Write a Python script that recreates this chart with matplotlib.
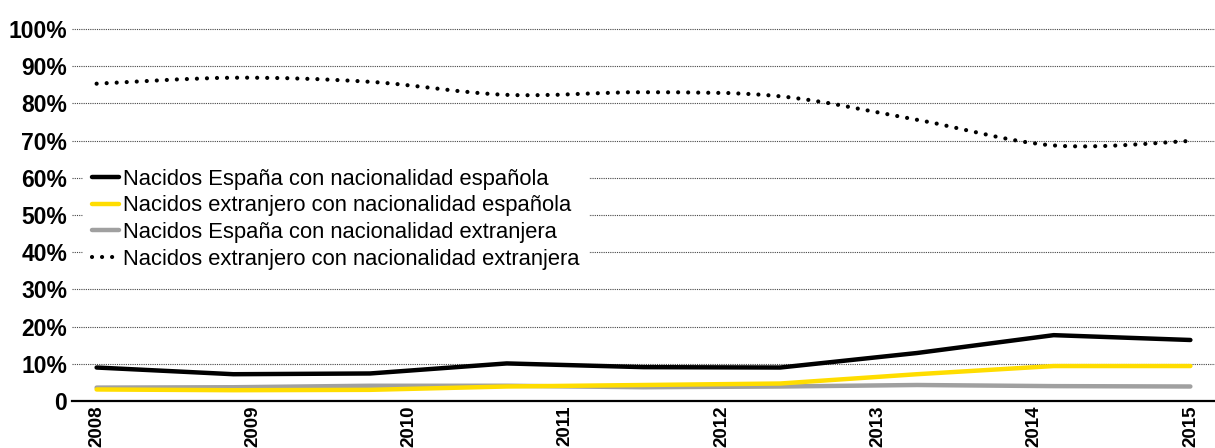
import matplotlib
matplotlib.use("Agg")
import matplotlib.pyplot as plt
import numpy as np
from matplotlib.path import Path
from matplotlib.patches import PathPatch
from matplotlib.lines import Line2D

plt.rcParams['font.family'] = ['Liberation Sans', 'DejaVu Sans']

# ---- data (percent) ----
years = ["2008", "2009", "2010", "2011", "2012", "2013", "2014", "2015"]
esp_esp = [9.0, 7.2, 7.4, 10.1, 9.1, 9.0, 12.9, 17.7, 16.4]      # Nacidos España, nacionalidad española
ext_esp = [3.1, 2.9, 3.0, 3.9, 4.3, 4.7, 7.2, 9.4, 9.4]          # Nacidos extranjero, nacionalidad española
esp_ext = [3.6, 3.7, 4.1, 4.1, 3.7, 3.9, 4.3, 4.0, 3.9]          # Nacidos España, nacionalidad extranjera
ext_ext = [85.3, 86.9, 85.8, 82.3, 83.0, 81.9, 75.6, 68.7, 69.9]  # Nacidos extranjero, nacionalidad extranjera

labels = ["Nacidos España con nacionalidad española",
          "Nacidos extranjero con nacionalidad española",
          "Nacidos España con nacionalidad extranjera",
          "Nacidos extranjero con nacionalidad extranjera"]

ytick_vals = [0, 10, 20, 30, 40, 50, 60, 70, 80, 90, 100]
ytick_labels = ["0", "10%", "20%", "30%", "40%", "50%", "60%", "70%", "80%", "90%", "100%"]

BLACK = "#000000"
YELLOW = "#FFDD00"
GRAY = "#A0A0A0"

fig = plt.figure(figsize=(12.15, 4.48), dpi=100)
ax = fig.add_axes([72/1215, 47/448, (1215-72)/1215, (401-29)/448])

x = np.arange(len(esp_esp))

# gridlines
for v in ytick_vals[1:]:
    ax.axhline(v, color="#444444", lw=0.8, ls=(0, (1, 1)), zorder=0.5, clip_on=False)

ax.plot(x, esp_ext, color=GRAY, lw=3.2, solid_capstyle='round', solid_joinstyle='round', zorder=2)
ax.plot(x, ext_esp, color=YELLOW, lw=3.2, solid_capstyle='round', solid_joinstyle='round', zorder=3)
ax.plot(x, esp_esp, color=BLACK, lw=3.2, solid_capstyle='round', solid_joinstyle='round', zorder=4)

# smoothed dotted series (Catmull-Rom -> cubic Bezier path)
pts = np.column_stack([x, ext_ext]).astype(float)
n = len(pts)
verts = [tuple(pts[0])]
codes = [Path.MOVETO]
for i in range(n - 1):
    p0 = pts[max(i - 1, 0)]
    p1 = pts[i]
    p2 = pts[i + 1]
    p3 = pts[min(i + 2, n - 1)]
    c1 = p1 + (p2 - p0) / 6.0
    c2 = p2 - (p3 - p1) / 6.0
    verts += [tuple(c1), tuple(c2), tuple(p2)]
    codes += [Path.CURVE4] * 3
dot_style = (0, (0.01, 2.4))
patch = PathPatch(Path(verts, codes), facecolor='none', edgecolor=BLACK, lw=3.0,
                  linestyle=dot_style, capstyle='round', zorder=4)
ax.add_patch(patch)

ax.set_xlim(-0.18, 8.18)
ax.set_ylim(0, 100)
ax.set_xticks(np.linspace(0, len(esp_esp) - 1, len(years)))
ax.set_xticklabels(years, rotation=90, fontweight='bold', fontsize=13.5, va='top')
ax.set_yticks(ytick_vals)
ax.set_yticklabels(ytick_labels, fontweight='bold', fontsize=16.5)
ax.tick_params(axis='x', length=0, pad=3.5)
ax.tick_params(axis='y', length=0, pad=3.6)

for s in ['left', 'right', 'top']:
    ax.spines[s].set_visible(False)
ax.spines['bottom'].set_linewidth(1.6)
ax.spines['bottom'].set_zorder(5)

handles = [
    Line2D([], [], color=BLACK, lw=3.2, solid_capstyle='round'),
    Line2D([], [], color=YELLOW, lw=3.2, solid_capstyle='round'),
    Line2D([], [], color=GRAY, lw=3.2, solid_capstyle='round'),
    Line2D([], [], color=BLACK, lw=3.0, ls=dot_style, dash_capstyle='round'),
]
leg = ax.legend(handles, labels, loc='upper left', bbox_to_anchor=(0.01, 0.648),
                fontsize=15.8, frameon=True, framealpha=1, edgecolor='white',
                facecolor='white', fancybox=False, borderpad=0.4, borderaxespad=0,
                handlelength=1.2, handletextpad=0.2, labelspacing=0.26)
leg.set_zorder(6)

fig.savefig("out.png", dpi=100)
